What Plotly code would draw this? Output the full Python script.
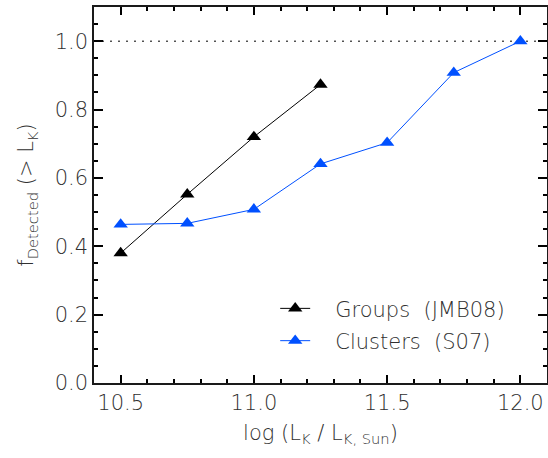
import plotly.graph_objects as go

# Data
groups_x = [10.5, 10.75, 11.0, 11.25]
groups_f = [0.38, 0.552, 0.72, 0.873]
clusters_x = [10.5, 10.75, 11.0, 11.25, 11.5, 11.75, 12.0]
clusters_f = [0.464, 0.467, 0.508, 0.641, 0.703, 0.908, 1.0]
x_range = [10.4, 12.1]
y_range = [0.0, 1.1]
ref_level = 1.0

FONT = "DejaVu Sans"
TXT = "#303030"
BLUE = "#0050ff"
SP = "\u00a0"

fig = go.Figure(layout=dict(template="none"))
fig.add_trace(go.Scatter(
    x=groups_x, y=groups_f, mode="lines+markers",
    name=SP * 3 + "Groups" + SP + SP + "(JMB08)", legendgroup="g",
    line=dict(color="black", width=1),
    marker=dict(symbol="triangle-up", size=12.5, color="black"),
))
fig.add_trace(go.Scatter(
    x=clusters_x, y=clusters_f, mode="lines+markers",
    name=SP * 3 + "Clusters" + SP + SP + "(S07)", legendgroup="c",
    line=dict(color=BLUE, width=1),
    marker=dict(symbol="triangle-up", size=12.5, color=BLUE),
))

fig.add_shape(type="line", xref="paper", x0=0, x1=1, yref="y", y0=ref_level, y1=ref_level,
              line=dict(color="black", width=1, dash="2px,6px"), layer="below")

tickfont = dict(family=FONT, size=21, color=TXT, weight=300)

fig.update_xaxes(
    range=x_range, tickmode="linear", tick0=10.5, dtick=0.5, tickformat=".1f",
    showline=True, linecolor="#1a1a1a", linewidth=1.5, mirror="ticks",
    ticks="inside", ticklen=8, tickwidth=1.5, tickcolor="black",
    showgrid=False, zeroline=False, automargin=False, tickfont=tickfont,
    minor=dict(dtick=0.1, ticks="inside", ticklen=4, tickcolor="black", tickwidth=1.5, showgrid=False),
    title=dict(text="log" + SP + "(L<sub>K</sub>" + SP + "/" + SP + "L<sub>K," + SP + "Sun</sub>)",
               font=tickfont, standoff=11),
)
fig.update_yaxes(
    range=y_range, tickmode="linear", tick0=0, dtick=0.2, tickformat=".1f",
    showline=True, linecolor="#1a1a1a", linewidth=1.5, mirror="ticks",
    ticks="inside", ticklen=9, tickwidth=1.5, tickcolor="black",
    showgrid=False, zeroline=False, automargin=False, tickfont=tickfont,
    minor=dict(dtick=0.05, ticks="inside", ticklen=4.5, tickcolor="black", tickwidth=1.5, showgrid=False),
    title=dict(text="f<sub>Detected</sub>" + SP + "(>" + SP + "L<sub>K</sub>)",
               font=tickfont, standoff=15),
)

fig.update_layout(
    width=548, height=458,
    margin=dict(l=94, r=1, t=7, b=75),
    paper_bgcolor="white", plot_bgcolor="white",
    showlegend=True,
    legend=dict(x=0.40, y=0.155, xanchor="left", yanchor="middle",
                bgcolor="rgba(0,0,0,0)", font=tickfont, tracegroupgap=2),
)

fig.write_html("out.html", config={"displayModeBar": False},
               post_script="document.body.style.margin='0';")
